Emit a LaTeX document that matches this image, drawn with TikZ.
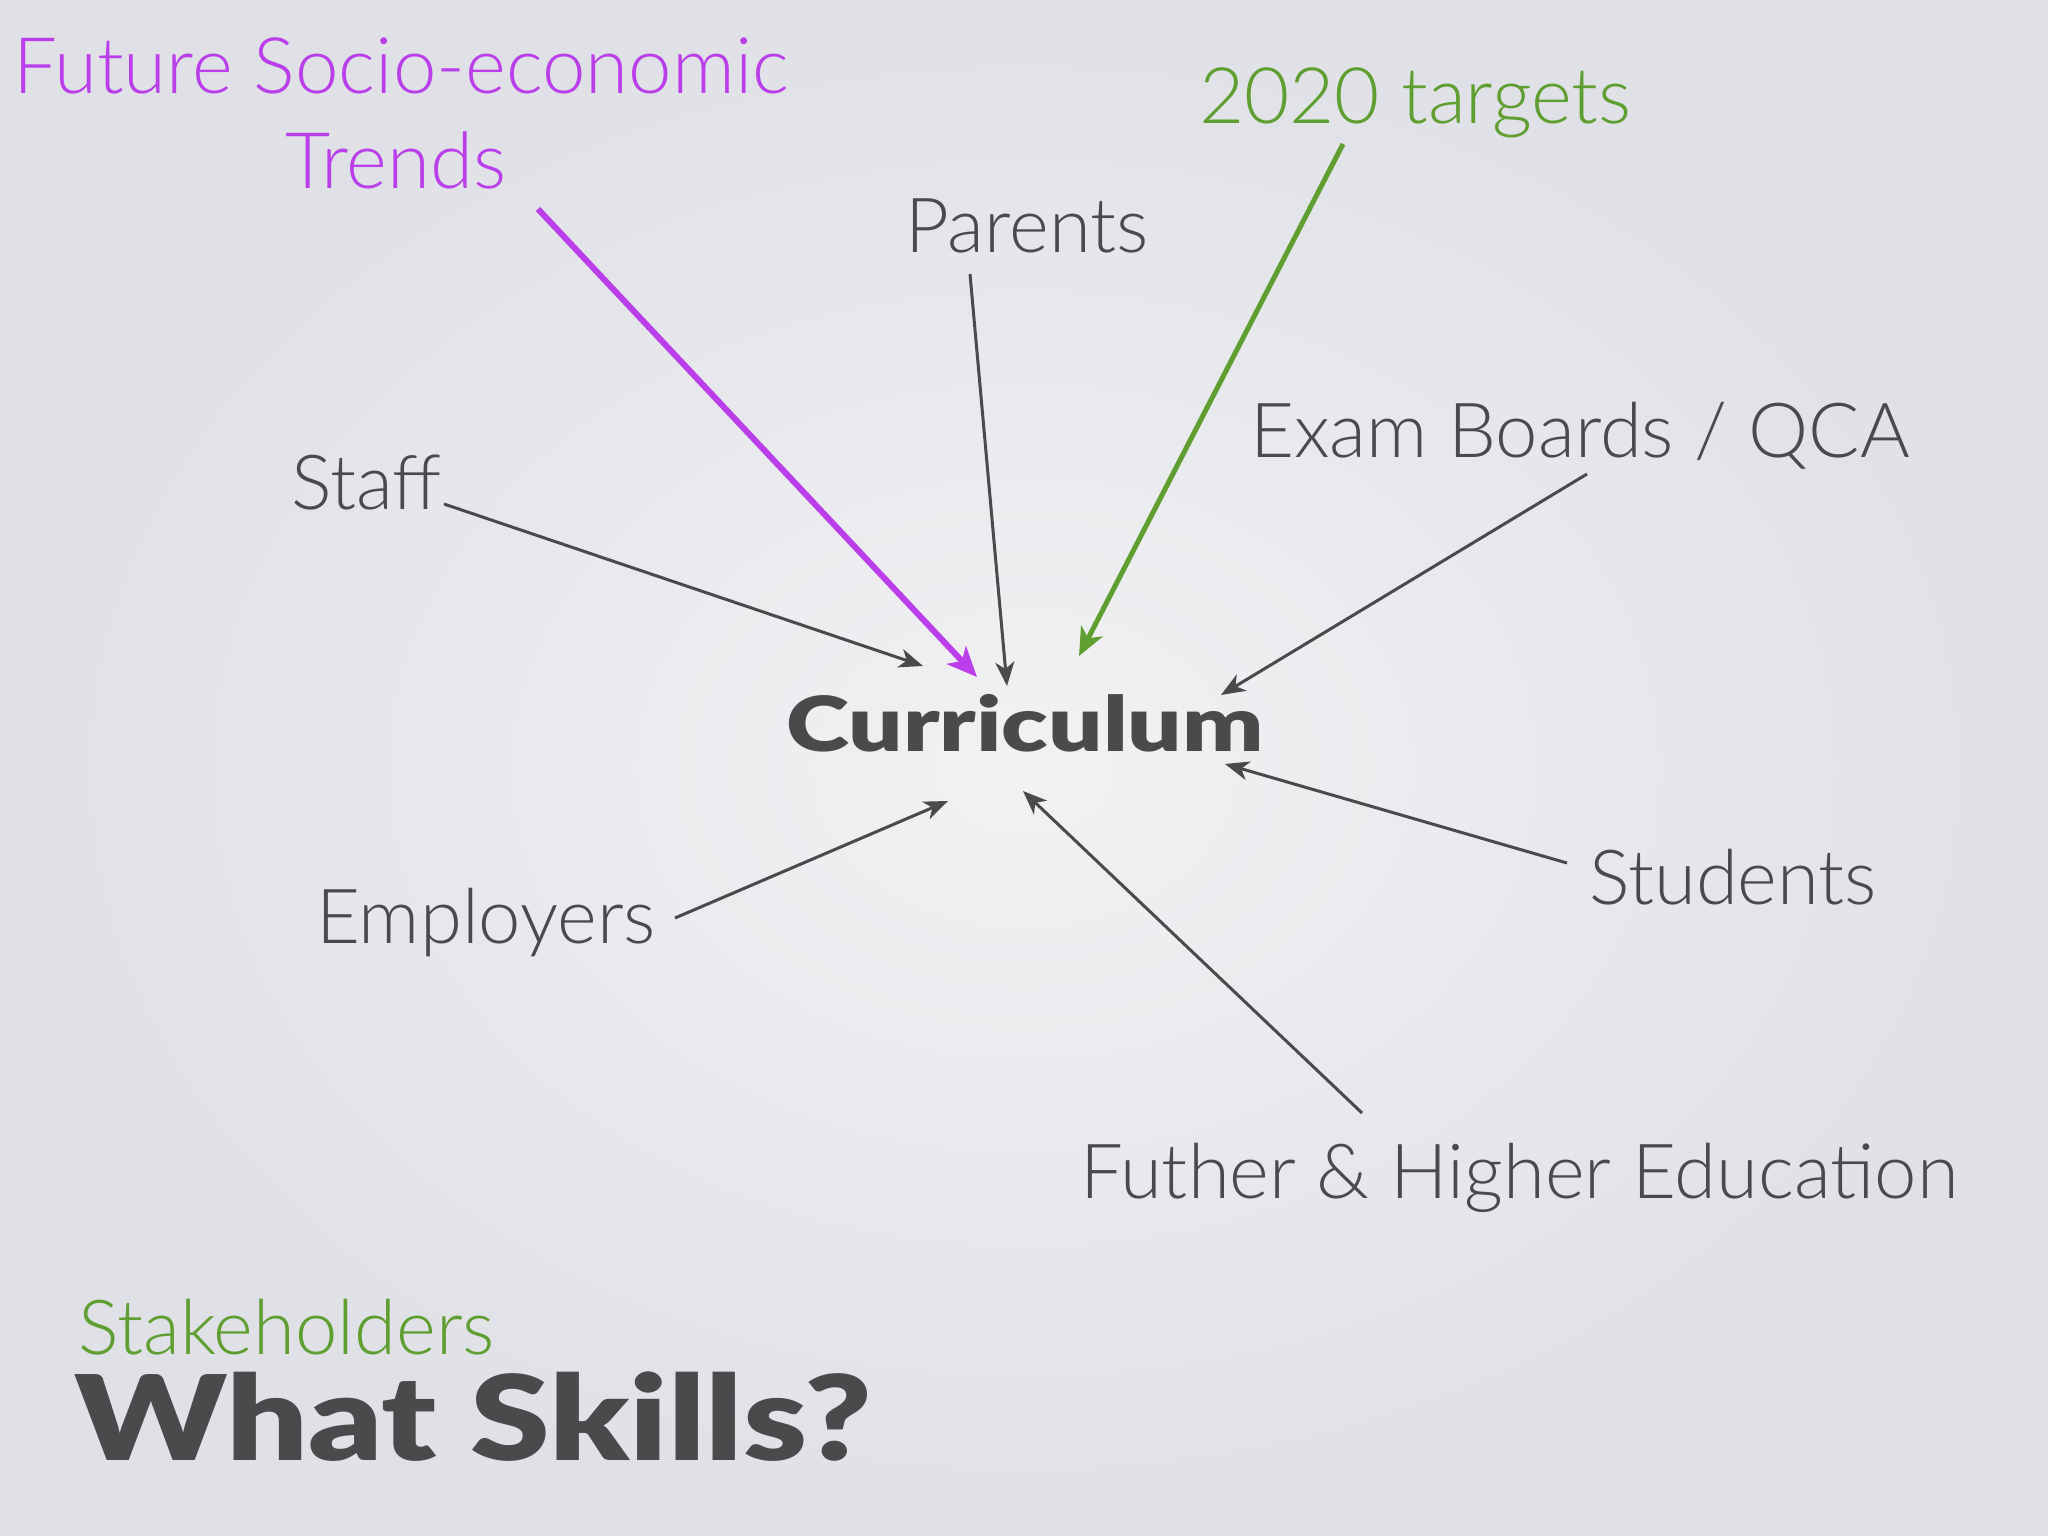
\documentclass[tikz,border=0pt]{standalone}
\usepackage{fontspec}
\setmainfont{Lato}
\newfontfamily\lightf{Lato Light}
\newfontfamily\boldf{Lato Black}
\usetikzlibrary{arrows.meta}
\definecolor{ink}{HTML}{4A4A4C}
\definecolor{purp}{HTML}{BA3FEA}
\definecolor{grn}{HTML}{5F9E30}
\definecolor{bgin}{HTML}{F2F2F4}
\definecolor{bgout}{HTML}{DFE1E6}
\tikzset{
  lbl/.style={inner sep=0pt, anchor=base west, text=ink, font=\lightf\fontsize{76}{90}\selectfont},
  arr/.style={draw=ink, line width=3pt, -{Stealth[length=24pt,width=19pt,inset=7pt]}},
}
\begin{document}
\begin{tikzpicture}[x=1pt,y=-1pt]
\useasboundingbox (0,0) rectangle (2048,1536);
\shade[inner color=bgin, outer color=bgout] (0,0) rectangle (2048,1536);
% labels
\node[lbl, text=purp, font=\lightf\fontsize{78}{90}\selectfont] (fut) at (13,94) {Future Socio-economic};
\node[lbl, text=purp, font=\lightf\fontsize{78}{90}\selectfont] (tre) at (285,189) {Trends};
\node[lbl, text=grn, font=\lightf\fontsize{78}{90}\selectfont] (tgt) at (1199,124) {2020 targets};
\node[lbl] (par) at (905,252) {Parents};
\node[lbl] (exa) at (1250,457) {Exam Boards / QCA};
\node[lbl] (sta) at (291,509) {Staff};
\node[lbl, font=\boldf\fontsize{76}{90}\selectfont] (cur) at (786,751) {\scalebox{1.26}[1]{Curriculum}};
\node[lbl] (emp) at (316,943) {Employers};
\node[lbl] (stu) at (1589,904) {Students};
\node[lbl] (fhe) at (1080,1198) {Futher \& Higher Education};
\node[lbl, text=grn, font=\lightf\fontsize{76}{90}\selectfont] (stk) at (78,1354) {Stakeholders};
\node[lbl, font=\boldf\fontsize{118}{130}\selectfont] (wsk) at (74,1460) {\scalebox{1.22}[1]{What Skills?}};
% arrow ends
\coordinate (a1) at (538,209);  \coordinate (b1) at (977,677);
\coordinate (a2) at (970,274);  \coordinate (b2) at (1007,686);
\coordinate (a3) at (1343,144); \coordinate (b3) at (1079,656);
\coordinate (a4) at (1587,474); \coordinate (b4) at (1221,695);
\coordinate (a5) at (444,504);  \coordinate (b5) at (923,666);
\coordinate (a6) at (675,918);  \coordinate (b6) at (948,801);
\coordinate (a7) at (1362,1113);\coordinate (b7) at (1023,791);
\coordinate (a8) at (1567,863); \coordinate (b8) at (1225,764);
\draw[arr, draw=purp, line width=6pt, -{Stealth[length=30pt,width=26pt,inset=8pt]}] (a1) -- (b1);
\draw[arr] (a2) -- (b2);
\draw[arr, draw=grn, line width=5pt, -{Stealth[length=28pt,width=24pt,inset=8pt]}] (a3) -- (b3);
\draw[arr] (a4) -- (b4);
\draw[arr] (a5) -- (b5);
\draw[arr] (a6) -- (b6);
\draw[arr] (a7) -- (b7);
\draw[arr] (a8) -- (b8);
\end{tikzpicture}
\end{document}
